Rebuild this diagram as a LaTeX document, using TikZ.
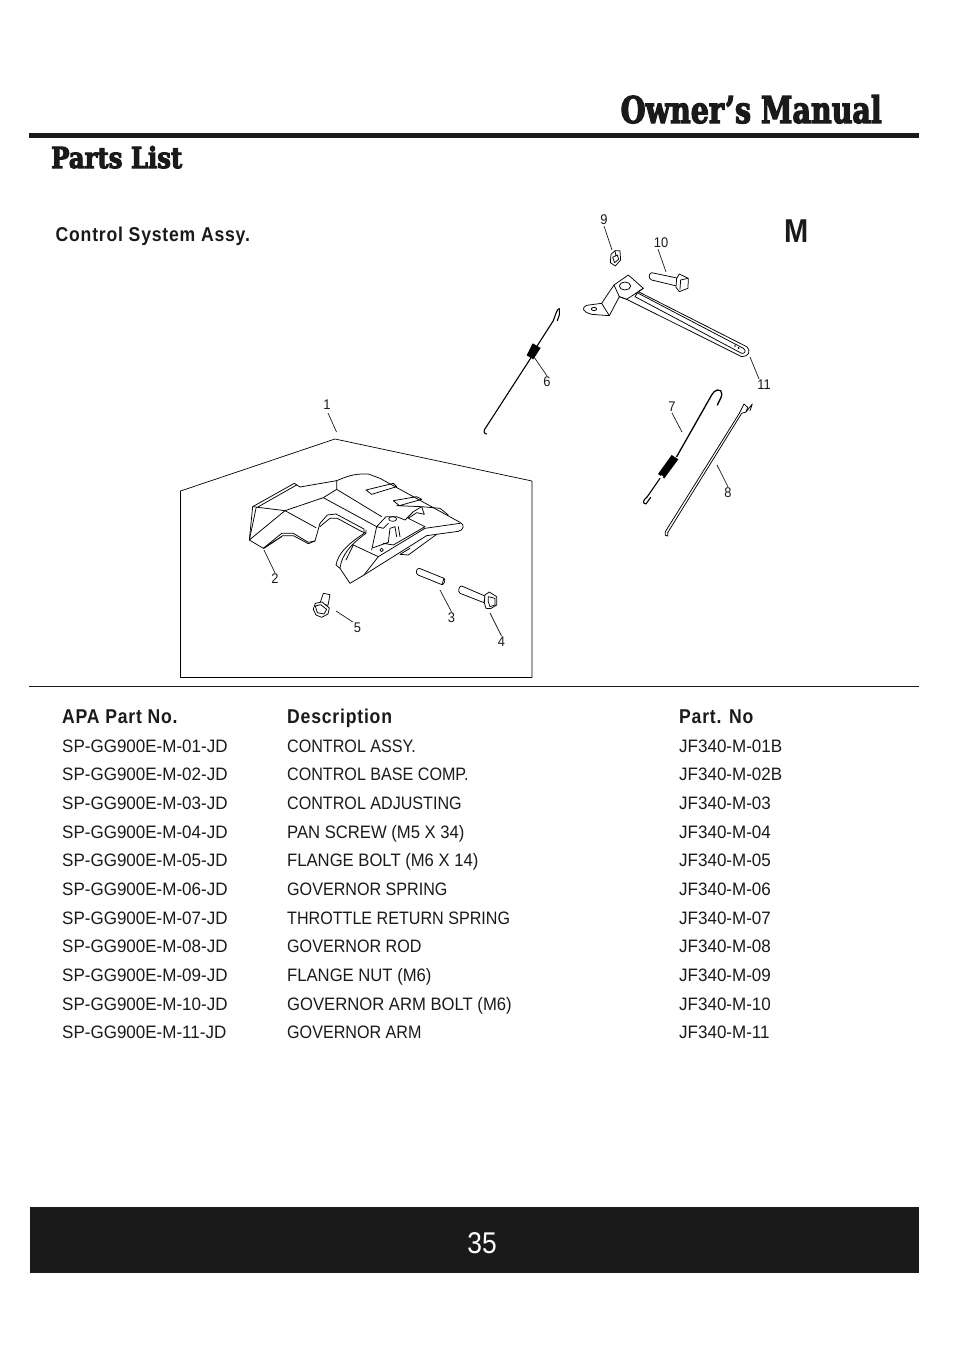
\documentclass[tikz,border=0pt]{standalone}
\usepackage{fontspec}
\usepackage{graphicx}
\setmainfont{Liberation Sans}
\newfontfamily\slabfont[FakeBold=3.5]{DejaVu Serif Condensed Bold}
\newfontfamily\rowa[FakeStretch=.945]{Liberation Sans}
\newfontfamily\rowb[FakeStretch=.895]{Liberation Sans}
\newfontfamily\rowc[FakeStretch=.925]{Liberation Sans}
\newfontfamily\headf[FakeStretch=.88,LetterSpace=4]{Liberation Sans}
\newfontfamily\bigf[FakeStretch=.88]{Liberation Sans}
\newfontfamily\callf[FakeStretch=.92]{Liberation Sans}
\definecolor{ink}{HTML}{1A1A1A}
\tikzset{
  rowtext/.style={anchor=base west,inner sep=0pt,text=ink,font=\fontsize{18}{18}\rowa},
  desctext/.style={anchor=base west,inner sep=0pt,text=ink,font=\fontsize{18}{18}\rowb},
  headtext/.style={anchor=base west,inner sep=0pt,text=ink,font=\fontsize{20}{20}\headf\bfseries},
  partline/.style={draw=black,line width=.75pt,line join=round,line cap=round},
  thinline/.style={draw=black,line width=.7pt,line join=round,line cap=round},
  wire/.style={draw=black,line width=1.1pt,line join=round,line cap=round},
  leader/.style={draw=ink,line width=.7pt},
  callout/.style={inner sep=1pt,text=ink,font=\fontsize{14}{14}\callf}
}
\begin{document}
\begin{tikzpicture}[x=1pt,y=-1pt]
\useasboundingbox (0,0) rectangle (954,1350);
\fill[white] (0,0) rectangle (954,1350);
% header
\node[anchor=base east,inner sep=0pt,text=ink] (title) at (882,123) {\resizebox{261pt}{28pt}{\slabfont Owner’s Manual}};
\fill[ink] (29,133) rectangle (919,137.5);
\node[anchor=base west,inner sep=0pt,text=ink] (parts) at (51,168) {\resizebox{131pt}{22pt}{\slabfont Parts List}};
\node[headtext] (sys) at (55.5,241) {Control System Assy.};
\node[anchor=base west,inner sep=0pt,text=ink,font=\fontsize{33}{33}\bigf\bfseries] (mm) at (784,242) {M};
% pentagon
\draw[thinline] (180.5,491) -- (335,439) -- (532,481) -- (532,677.5) -- (180.5,677.5) -- cycle;
\draw[draw=ink,line width=.7pt] (29,686.5) -- (919,686.5);
% part 2
\begin{scope}[shift={(240,465)},scale=.3333]
\draw[partline,fill=white] (38,125) -- (163,55) -- (180,66) -- (290,47) .. controls (320,35) and (340,25) .. (385,27) -- (420,40) -- (660,172) .. controls (675,178) and (672,195) .. (655,199) -- (560,212) -- (372,330) -- (330,355) -- (300,310) -- (288,300) .. controls (295,265) and (320,240) .. (372,205) -- (372,192) -- (288,147) -- (262,150) -- (240,175) -- (225,228) -- (205,232) -- (160,205) -- (125,205) -- (70,250) -- (28,225) -- cycle;
\draw[partline] (38,125) -- (135,137) -- (28,225)
 (48,130) -- (28,225)
 (50,128) -- (170,60)
 (135,137) -- (250,98) -- (290,73) -- (290,47)
 (250,98) -- (410,185)
 (290,73) -- (425,155)
 (135,137) -- (228,188)
 (70,250) -- (128,212) -- (160,212) -- (205,236) -- (225,228)
 (72,250) -- (125,215)
 (240,185) -- (248,178) -- (270,160) -- (292,160) -- (362,198) -- (378,205) -- (378,195)
 (378,205) .. controls (330,240) and (305,270) .. (300,310)
 (340,240) -- (415,275) -- (372,330)
 (340,240) -- (318,285)
 (415,275) -- (555,190) -- (660,175)
 (395,255) -- (410,185) -- (438,155) -- (470,155) -- (495,165) -- (520,140) -- (545,125) -- (553,148) -- (530,143) -- (505,160) -- (555,185)
 (378,75) -- (460,55) -- (470,65) -- (395,88) -- cycle
 (460,107) -- (530,95) -- (545,103) -- (478,122) -- cycle
 (470,122) -- (545,125)
 (545,125) -- (600,130)
 (410,185) -- (430,190) -- (445,175)
 (400,248) -- (445,232) -- (450,190) -- (465,185) -- (470,215)
 (475,185) -- (480,215)
 (430,235) -- (460,240) -- (555,185)
 (590,208) -- (505,270) -- (480,268) -- (510,250)
 (600,130) -- (625,150);
\draw[thinline] (458,162) ellipse (12 and 7);
\draw[thinline] (425,255) circle (5);
\end{scope}
% part 3, 4, 5
\begin{scope}[shift={(170,420)},scale=.3333]
\draw[partline,fill=white] (748,445) -- (822,475) -- (816,494) -- (744,465) .. controls (735,458) and (740,445) .. (748,445) -- cycle;
\draw[partline] (822,475) .. controls (828,480) and (822,494) .. (816,494);
\draw[partline,fill=white] (875,498) -- (945,528) -- (942,548) -- (870,520) .. controls (862,512) and (868,498) .. (875,498) -- cycle;
\draw[partline,fill=white] (958,516) -- (980,530) -- (980,555) -- (962,566) -- (948,565) -- (943,548) -- (945,525) -- cycle;
\draw[partline] (955,530) -- (975,535) -- (975,555) -- (960,560) -- (955,545) -- cycle;
\draw[partline,fill=white] (460,520) -- (480,524) -- (474,556) -- (450,550) -- cycle;
\draw[partline,fill=white] (436,550) -- (456,546) -- (478,564) -- (474,582) -- (455,592) -- (438,585) -- (430,568) -- cycle;
\draw[partline] (436,558) -- (452,554) -- (470,568) -- (462,582) -- (442,578) -- cycle;
\end{scope}
% part 6, 9, 10, 11
\begin{scope}[shift={(470,200)},scale=.3333]
\draw[wire] (50,702) .. controls (40,702) and (40,690) .. (48,682) -- (185,470);
\draw[wire] (200,440) -- (250,362) .. controls (256,345) and (262,325) .. (268,326) -- (268,345) -- (262,362);
\fill[black] (188,430) -- (212,444) -- (190,478) -- (170,466) -- cycle;
\draw[partline,fill=white] (435,152) -- (450,152) -- (452,180) -- (436,198) -- (421,188) -- (423,163) -- cycle;
\draw[partline] (428,172) -- (442,165) -- (446,178) -- (434,188) -- cycle (435,152) -- (438,168);
\draw[partline,fill=white] (545,218) -- (625,235) -- (620,258) -- (545,240) .. controls (535,235) and (535,222) .. (545,218) -- cycle;
\draw[partline,fill=white] (628,222) -- (655,235) -- (654,265) -- (628,275) -- (618,262) -- (620,235) -- cycle;
\draw[partline] (632,240) -- (654,235) (632,240) -- (630,268);
% arm
\draw[partline,fill=white] (475,225) -- (520,265) -- (505,275) -- (830,440) .. controls (845,455) and (835,470) .. (815,470) -- (470,298) -- (448,290) -- (418,347) -- (365,343) .. controls (335,335) and (335,322) .. (350,316) -- (395,310) -- (432,255) -- cycle;
\draw[partline] (432,255) -- (448,290) -- (470,298) -- (520,265)
 (395,310) -- (418,347)
 (505,280) -- (820,445) .. controls (830,452) and (825,462) .. (815,460) -- (495,290) -- (505,275);
\draw[partline] (465,258) ellipse (17 and 12);
\draw[partline] (372,327) ellipse (8 and 5);
\fill[black] (795,438) circle (2.5) (806,444) circle (3);
\end{scope}
% part 7, 8
\begin{scope}[shift={(630,380)},scale=.3333]
\draw[black,line width=1.3pt,line join=round,line cap=round] (262,75) .. controls (268,60) and (282,45) .. (272,32) -- (262,30) .. controls (255,30) and (250,38) .. (245,45) -- (140,230);
\draw[black,line width=1.1pt,line join=round,line cap=round] (90,295) -- (52,350) .. controls (40,360) and (35,370) .. (48,372) -- (62,352);
\fill[black] (125,225) -- (145,238) -- (103,295) -- (84,282) -- cycle;
\fill[white] (95,290) ellipse (5 and 4);
\draw[partline] (106,455) -- (328,100) -- (342,72) -- (353,82) -- (348,96) -- (367,72) -- (360,92);
\draw[partline] (113,458) -- (335,100) -- (348,96);
\draw[partline] (106,455) -- (106,466) -- (113,468) -- (113,458);
\end{scope}
% callouts
\node[callout] (l1) at (327,405) {1};
\coordinate (t1) at (336.5,432);
\draw[leader] (l1.south) ++(1,2) -- (t1);
\node[callout] (l2) at (275,579) {2};
\coordinate (t2) at (264,550);
\draw[leader] (l2.north) -- (t2);
\node[callout] (l3) at (451.5,618) {3};
\coordinate (t3) at (440,590);
\draw[leader] (l3.north) -- (t3);
\node[callout] (l4) at (501.5,642) {4};
\coordinate (t4) at (490,613);
\draw[leader] (l4.north) -- (t4);
\node[callout] (l5) at (357.5,628) {5};
\coordinate (t5) at (336,611);
\draw[leader] (l5.north west) -- (t5);
\node[callout] (l6) at (547,382) {6};
\coordinate (t6) at (534,357);
\draw[leader] (l6.north) -- (t6);
\node[callout] (l7) at (672,407) {7};
\coordinate (t7) at (682,432);
\draw[leader] (l7.south) -- (t7);
\node[callout] (l8) at (728,493) {8};
\coordinate (t8) at (717,465);
\draw[leader] (l8.north) -- (t8);
\node[callout] (l9) at (604,220) {9};
\coordinate (t9) at (612,250);
\draw[leader] (l9.south) -- (t9);
\node[callout] (l10) at (661,243) {10};
\coordinate (t10) at (666,272);
\draw[leader] (l10.south) ++(-3,0) -- (t10);
\node[callout] (l11) at (764,385) {11};
\coordinate (t11) at (750,357);
\draw[leader] (l11.north) ++(-5,0) -- (t11);
% table
\node[headtext] (h1) at (62,723) {APA Part No.};
\node[headtext] (h2) at (287,723) {Description};
\node[headtext] (h3) at (679,723) {Part. No};
\foreach \n/\yy/\desc/\code/\fnt in {
 01/752/CONTROL ASSY./JF340-M-01B/\rowb,
 02/780/CONTROL BASE COMP./JF340-M-02B/\rowb,
 03/809/CONTROL ADJUSTING/JF340-M-03/\rowb,
 04/838/PAN SCREW (M5 X 34)/JF340-M-04/\rowc,
 05/866/FLANGE BOLT (M6 X 14)/JF340-M-05/\rowc,
 06/895/GOVERNOR SPRING/JF340-M-06/\rowb,
 07/924/THROTTLE RETURN SPRING/JF340-M-07/\rowb,
 08/952/GOVERNOR ROD/JF340-M-08/\rowb,
 09/981/FLANGE NUT (M6)/JF340-M-09/\rowc,
 10/1010/GOVERNOR ARM BOLT (M6)/JF340-M-10/\rowc,
 11/1038/GOVERNOR ARM/JF340-M-11/\rowb}{
  \node[rowtext] (a\n) at (62,\yy) {SP-GG900E-M-\n-JD};
  \node[desctext] (b\n) at (287,\yy) {\fnt \desc};
  \node[rowtext] (c\n) at (679,\yy) {\code};
}
% footer
\fill[ink] (30,1207) rectangle (919,1273);
\node[inner sep=0pt,text=white,font=\fontsize{30}{30}\bigf] (page) at (482,1243) {35};
\end{tikzpicture}
\end{document}
